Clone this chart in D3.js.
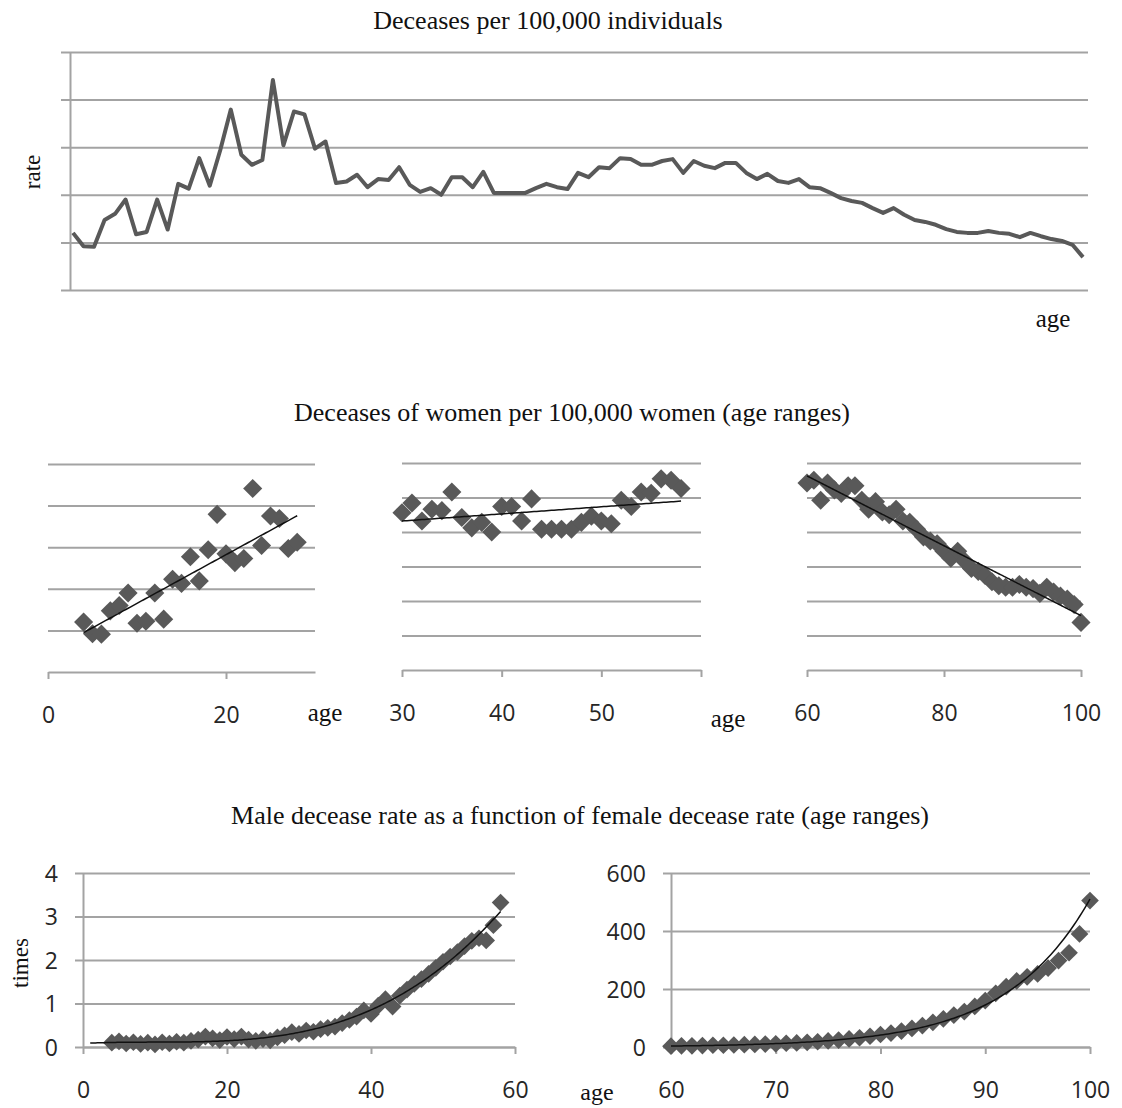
<!DOCTYPE html>
<html>
<head>
<meta charset="utf-8">
<script src="https://cdn.jsdelivr.net/npm/d3@7"></script>
<style>
body { margin: 0; background: #fff; }
.tick-label { font-family: "Open Sans", sans-serif; font-size: 23px; fill: #262626; }
.serif { font-family: "Liberation Serif", serif; fill: #111; }
</style>
</head>
<body>
<svg id="chart" width="1122" height="1108"></svg>
<script>
/**
 * Data.
 */
var firstAge = 4;

// deceases per 100,000, ages 4..100 (unlabelled rate axis, grid step = 1)
var rate = [
    1.20, 0.92, 0.91, 1.47, 1.60, 1.90, 1.17, 1.22, 1.90, 1.27,
    2.23, 2.13, 2.77, 2.19, 2.94, 3.79, 2.84, 2.63, 2.73, 4.41,
    3.04, 3.75, 3.69, 2.97, 3.12,
    2.25, 2.28, 2.42, 2.16, 2.33, 2.31, 2.58, 2.21, 2.06, 2.14,
    2.00, 2.37, 2.37, 2.16, 2.48, 2.04, 2.04, 2.04, 2.04, 2.14,
    2.23, 2.16, 2.12, 2.46, 2.37, 2.58, 2.56, 2.77, 2.75, 2.63,
    2.63, 2.71, 2.75, 2.46, 2.71, 2.61, 2.56, 2.67, 2.67, 2.46,
    2.33, 2.44, 2.29, 2.25, 2.33, 2.16, 2.14, 2.04, 1.93, 1.87,
    1.83, 1.72, 1.62, 1.72, 1.58, 1.47, 1.43, 1.37, 1.28, 1.22,
    1.20, 1.20, 1.24, 1.20, 1.18, 1.11, 1.20, 1.13, 1.07, 1.03,
    0.95, 0.69
];

// age ranges of the women panels
var womenRanges = [[4, 28], [30, 58], [60, 100]];

// male / female ratio, ages 4..58
var youngStart = 4;
var maleRatioYoung = [
    0.10, 0.13, 0.08, 0.11, 0.07, 0.10, 0.06, 0.11, 0.08, 0.12,
    0.10, 0.14, 0.17, 0.24, 0.20, 0.16, 0.23, 0.18, 0.24, 0.17,
    0.14, 0.18, 0.15, 0.22, 0.27, 0.34, 0.30, 0.38, 0.35, 0.41,
    0.44, 0.47, 0.55, 0.62, 0.70, 0.84, 0.76, 0.95, 1.10, 0.93,
    1.18, 1.32, 1.45, 1.56, 1.68, 1.82, 1.96, 2.08, 2.18, 2.32,
    2.44, 2.50, 2.45, 2.80, 3.32
];

// male / female ratio, ages 60..100
var oldStart = 60;
var maleRatioOld = [
    3, 4, 4, 5, 6, 6, 7, 8, 9, 10,
    11, 13, 14, 16, 18, 21, 24, 28, 32, 37,
    43, 48, 55, 64, 74, 85, 97, 110, 122, 140,
    160, 185, 208, 228, 242, 252, 272, 298, 325, 390,
    505
];

var titles = [
    "Deceases per 100,000 individuals",
    "Deceases of women per 100,000 women (age ranges)",
    "Male decease rate as a function of female decease rate (age ranges)"
];

var p1Ticks = [0, 20], p2Ticks = [30, 40, 50, 60], p3Ticks = [60, 80, 100];
var youngTicks = [0, 20, 40, 60], oldTicks = [60, 70, 80, 90, 100];
var youngY = [0, 1, 2, 3, 4], oldY = [0, 200, 400, 600];

var gridColor = "#a3a3a3";
var markColor = "#595959";

var svg = d3.select("#chart");

function pairs(start, values) {
    return values.map((v, i) => ({ age: start + i, v: v }));
}
var ratePts = pairs(firstAge, rate);

// least squares polynomial, x normalised for stability
function polyFit(pts, order) {
    var xm = d3.mean(pts, d => d.age), xs = (d3.max(pts, d => d.age) - d3.min(pts, d => d.age)) / 2;
    var n = order + 1, A = [], b = [];
    for (var i = 0; i < n; i++) { A.push(new Array(n).fill(0)); b.push(0); }
    pts.forEach(p => {
        var t = (p.age - xm) / xs;
        for (var i = 0; i < n; i++) {
            for (var j = 0; j < n; j++) A[i][j] += Math.pow(t, i + j);
            b[i] += p.v * Math.pow(t, i);
        }
    });
    for (var c = 0; c < n; c++) {
        for (var r = c + 1; r < n; r++) {
            var f = A[r][c] / A[c][c];
            for (var k = c; k < n; k++) A[r][k] -= f * A[c][k];
            b[r] -= f * b[c];
        }
    }
    var coef = new Array(n).fill(0);
    for (var r = n - 1; r >= 0; r--) {
        var s = b[r];
        for (var k = r + 1; k < n; k++) s -= A[r][k] * coef[k];
        coef[r] = s / A[r][r];
    }
    return x => { var t = (x - xm) / xs; return coef.reduce((acc, c, i) => acc + c * Math.pow(t, i), 0); };
}

function expFit(pts) {
    var lp = pts.map(p => ({ age: p.age, v: Math.log(p.v) }));
    var f = polyFit(lp, 1);
    return x => Math.exp(f(x));
}

function diamonds(g, pts, x, y, side) {
    g.selectAll(null).data(pts).enter().append("path")
        .attr("d", d3.symbol(d3.symbolSquare, side * side)())
        .attr("transform", d => `translate(${x(d.age)},${y(d.v)}) rotate(45)`)
        .attr("fill", markColor);
}

function trend(g, fn, x, y, a0, a1) {
    var line = d3.line().x(a => x(a)).y(a => y(fn(a)));
    g.append("path")
        .datum(d3.range(a0, a1 + 0.001, 0.25))
        .attr("d", line)
        .attr("fill", "none")
        .attr("stroke", "#111")
        .attr("stroke-width", 1.5);
}

function grid(g, y, values, x0, x1) {
    g.append("g")
        .attr("transform", `translate(${x0},0)`)
        .call(d3.axisRight(y).tickValues(values).tickSize(x1 - x0).tickFormat(""))
        .call(a => a.select(".domain").remove())
        .selectAll("line").attr("stroke", gridColor).attr("stroke-width", 2);
}

function xAxis(g, x, yPos, ticks, labels) {
    var ax = g.append("g")
        .attr("transform", `translate(0,${yPos})`)
        .call(d3.axisBottom(x).tickValues(ticks).tickSize(7).tickSizeOuter(0)
            .tickFormat(d => labels.indexOf(d) >= 0 ? d : ""));
    ax.select(".domain").attr("stroke", gridColor).attr("stroke-width", 2);
    ax.selectAll("line").attr("stroke", gridColor).attr("stroke-width", 2);
    ax.selectAll("text").attr("class", "tick-label").attr("y", 43).attr("dy", "0.36em");
}

function label(text, x, y, size, rotate) {
    var t = svg.append("text").attr("class", "serif")
        .attr("text-anchor", "middle").attr("font-size", size)
        .attr("dy", "0.35em").text(text);
    t.attr("transform", `translate(${x},${y})` + (rotate ? " rotate(-90)" : ""));
}

// ---------- top: line chart ----------
var topG = svg.append("g");
var xTop = d3.scaleLinear().domain([4, 100]).range([73, 1083]);
var yTop = d3.scaleLinear().domain([0, 5]).range([290, 52]);
grid(topG, yTop, [0, 1, 2, 3, 4, 5], 61, 1088);
topG.append("g").attr("transform", "translate(70,0)")
    .call(d3.axisLeft(yTop).tickValues([]).tickSizeOuter(0))
    .select(".domain").attr("stroke", gridColor).attr("stroke-width", 2);
topG.append("path")
    .datum(ratePts)
    .attr("d", d3.line().x(d => xTop(d.age)).y(d => yTop(d.v)))
    .attr("fill", "none")
    .attr("stroke", markColor)
    .attr("stroke-width", 4)
    .attr("stroke-linejoin", "round");
label(titles[0], 548, 20, 26);
label("rate", 32, 172, 23, true);
label("age", 1053, 318, 25);

// ---------- middle: women panels ----------
var midG = svg.append("g");
var panels = [
    { x: d3.scaleLinear().domain([0, 30]).range([48, 315]),
      y: d3.scaleLinear().domain([0, 5]).range([672, 464]),
      grid: [1, 2, 3, 4, 5], axisY: 672, ticks: p1Ticks, labels: p1Ticks, fit: 1 },
    { x: d3.scaleLinear().domain([30, 60]).range([402, 701]),
      y: d3.scaleLinear().domain([0, 3]).range([670, 463]),
      grid: [0.5, 1, 1.5, 2, 2.5, 3], axisY: 670, ticks: p2Ticks, labels: [30, 40, 50], fit: 1 },
    { x: d3.scaleLinear().domain([60, 100]).range([807, 1081]),
      y: d3.scaleLinear().domain([0, 3]).range([670, 463]),
      grid: [0.5, 1, 1.5, 2, 2.5, 3], axisY: 670, ticks: p3Ticks, labels: p3Ticks, fit: 1 }
];
panels.forEach((p, i) => {
    var g = midG.append("g");
    var r = womenRanges[i];
    var pts = ratePts.filter(d => d.age >= r[0] && d.age <= r[1]);
    grid(g, p.y, p.grid, p.x.range()[0], p.x.range()[1]);
    xAxis(g, p.x, p.axisY, p.ticks, p.labels);
    diamonds(g, pts, p.x, p.y, 13.5);
    trend(g, polyFit(pts, p.fit), p.x, p.y, r[0], r[1]);
});
label(titles[1], 572, 412, 26);
label("age", 325, 712, 25);
label("age", 728, 718, 25);

// ---------- bottom: male vs female ----------
var botG = svg.append("g");
var youngPts = pairs(youngStart, maleRatioYoung);
var oldPts = pairs(oldStart, maleRatioOld);

var xL = d3.scaleLinear().domain([0, 60]).range([83, 515]);
var yL = d3.scaleLinear().domain([0, 4]).range([1047, 873]);
var xR = d3.scaleLinear().domain([60, 100]).range([671, 1090]);
var yR = d3.scaleLinear().domain([0, 600]).range([1047, 873]);

[[xL, yL, youngY, youngTicks, youngPts, 75], [xR, yR, oldY, oldTicks, oldPts, 663]].forEach((c, i) => {
    var x = c[0], y = c[1], g = botG.append("g");
    grid(g, y, c[2], c[5], x.range()[1]);
    var ya = g.append("g").attr("transform", `translate(${x.range()[0]},0)`)
        .call(d3.axisLeft(y).tickValues(c[2]).tickSize(0).tickSizeOuter(0).tickFormat(d3.format("d")));
    ya.select(".domain").attr("stroke", gridColor).attr("stroke-width", 2);
    ya.selectAll("text").attr("class", "tick-label").attr("x", -25).attr("dy", "0.36em");
    xAxis(g, x, y.range()[0], c[3], c[3]);
    diamonds(g, c[4], x, y, 12.5);
    if (i === 0) trend(g, polyFit(c[4], 3), x, y, 1, 58);
    else trend(g, expFit(c[4]), x, y, 60, 100);
});
label(titles[2], 580, 815, 26);
label("times", 20, 963, 23, true);
label("age", 597, 1092, 24);
</script>
</body>
</html>
